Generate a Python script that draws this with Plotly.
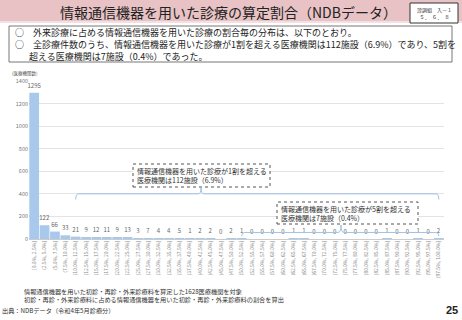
import plotly.graph_objects as go

# ---- data ----
bin_labels = [
    "[0.0%, 2.5%]", "(2.5%, 5.0%]", "(5.0%, 7.5%]", "(7.5%, 10.0%]",
    "(10.0%, 12.5%]", "(12.5%, 15.0%]", "(15.0%, 17.5%]", "(17.5%, 20.0%]",
    "(20.0%, 22.5%]", "(22.5%, 25.0%]", "(25.0%, 27.5%]", "(27.5%, 30.0%]",
    "(30.0%, 32.5%]", "(32.5%, 35.0%]", "(35.0%, 37.5%]", "(37.5%, 40.0%]",
    "(40.0%, 42.5%]", "(42.5%, 45.0%]", "(45.0%, 47.5%]", "(47.5%, 50.0%]",
    "(50.0%, 52.5%]", "(52.5%, 55.0%]", "(55.0%, 57.5%]", "(57.5%, 60.0%]",
    "(60.0%, 62.5%]", "(62.5%, 65.0%]", "(65.0%, 67.5%]", "(67.5%, 70.0%]",
    "(70.0%, 72.5%]", "(72.5%, 75.0%]", "(75.0%, 77.5%]", "(77.5%, 80.0%]",
    "(80.0%, 82.5%]", "(82.5%, 85.0%]", "(85.0%, 87.5%]", "(87.5%, 90.0%]",
    "(90.0%, 92.5%]", "(92.5%, 95.0%]", "(95.0%, 97.5%]", "(97.5%, 100.0%]",
]
counts = [1295, 122, 66, 33, 21, 9, 12, 11, 9, 13,
          3, 7, 4, 4, 5, 1, 2, 2, 0, 2,
          1, 0, 0, 0, 0, 1, 1, 0, 0, 0,
          0, 0, 0, 0, 1, 0, 0, 1, 0, 2]
y_ticks = [0, 200, 400, 600, 800, 1000, 1200, 1400]

title_text = "情報通信機器を用いた診療の算定割合（NDBデータ）"
bullet_lines = [
    "○　外来診療に占める情報通信機器を用いた診療の割合毎の分布は、以下のとおり。",
    "○　全診療件数のうち、情報通信機器を用いた診療が1割を超える医療機関は112施設（6.9%）であり、5割を",
    "超える医療機関は7施設（0.4%）であった。",
]
callout1 = "情報通信機器を用いた診療が1割を超える<br>医療機関は112施設（6.9%）"
callout2 = "情報通信機器を用いた診療が5割を超える<br>医療機関は7施設（0.4%）"
notes = [
    "情報通信機器を用いた初診・再診・外来診療料を算定した1628医療機関を対象",
    "初診・再診・外来診療料に占める情報通信機器を用いた初診・再診・外来診療料の割合を算出",
]
source = "出典：NDBデータ（令和4年5月診療分）"

FONT = "Noto Sans CJK JP"
W, H = 462, 320
L, R, T, B = 29, 18, 81, 81
PW, PH = W - L - R, H - T - B
NB = len(bin_labels)


def xp(px):
    return (px - L) / PW


def yp(py):
    return (H - B - py) / PH


def xi(i):
    return (i + 0.5) / NB


def txt(x, y, text, size, color="#333333", xanchor="left", yanchor="middle", family=FONT, align="left"):
    return dict(xref="paper", yref="paper", x=xp(x), y=yp(y), text=text,
                xanchor=xanchor, yanchor=yanchor, align=align, showarrow=False, borderpad=0,
                font=dict(size=size, color=color, family=family))


fig = go.Figure()
fig.add_trace(go.Bar(
    x=bin_labels, y=counts,
    marker=dict(color="#a9c9ec", line=dict(width=0)),
    text=[str(c) for c in counts], textposition="outside",
    textfont=dict(size=6, color="#666666", family=FONT),
    constraintext="none", cliponaxis=False,
))

shapes = []
annos = []

# title banner
shapes.append(dict(type="rect", xref="paper", yref="paper", x0=xp(0), x1=xp(W),
                   y0=yp(21), y1=yp(0), fillcolor="#e8c2c4", line=dict(width=0), layer="below"))
shapes.append(dict(type="rect", xref="paper", yref="paper", x0=xp(0), x1=xp(W),
                   y0=yp(23), y1=yp(21), fillcolor="#f3e0e1", line=dict(width=0), layer="below"))
annos.append(txt(228, 11.5, title_text, 14, "#222222", xanchor="center"))
# top right id box
shapes.append(dict(type="rect", xref="paper", yref="paper", x0=xp(410), x1=xp(458),
                   y0=yp(23), y1=yp(3), fillcolor="white", line=dict(color="#333333", width=1)))
annos.append(txt(434, 13, "診調組　入－１<br>５．　６．　８", 5, xanchor="center", align="center"))

# bullet box
shapes.append(dict(type="rect", xref="paper", yref="paper", x0=xp(9), x1=xp(452),
                   y0=yp(62), y1=yp(26), fillcolor="white", line=dict(color="#777777", width=1)))
for line, bx, by in zip(bullet_lines, [14, 14, 28], [33, 45, 56]):
    annos.append(txt(bx, by, line, 9, "#222222"))

# axis caption
annos.append(txt(11, 73.5, "(医療機関数)", 4.5, "#555555"))

# callout boxes (dashed)
for (x0, x1, y0, y1, t) in [(133, 270, 164, 187, callout1), (277, 418, 202, 224, callout2)]:
    shapes.append(dict(type="rect", xref="paper", yref="paper", x0=xp(x0), x1=xp(x1),
                       y0=yp(y1), y1=yp(y0), fillcolor="white",
                       line=dict(color="#555555", width=1, dash="dot")))
    annos.append(txt(x0 + 3, (y0 + y1) / 2, t, 7, "#333333"))

# braces
BR = "#9dc3e6"
rx = 3 / PW


def brace(i0, i1, v_h, v_end, tick_px, v_tick):
    x0, x1 = xi(i0), xi(i1)
    yh, ye, yt = v_h / 1400, v_end / 1400, v_tick / 1400
    xt = xp(tick_px)
    p = (f"M {x0},{ye} Q {x0},{yh} {x0 + rx},{yh} L {xt - rx},{yh} "
         f"Q {xt},{yh} {xt},{yt} Q {xt},{yh} {xt + rx},{yh} "
         f"L {x1 - rx},{yh} Q {x1},{yh} {x1},{ye}")
    return dict(type="path", xref="paper", yref="paper", path=p, line=dict(color=BR, width=1))


shapes.append(brace(4, 39, 400, 350, 201, 452))
shapes.append(brace(20, 39, 58, 25, 341, 124))

# footnotes
annos.append(txt(23, 295.5, "<br>".join(notes), 6.2))
annos.append(txt(1, 310.5, source, 6.2))
annos.append(txt(459, 310, "<b>25</b>", 11, "#222222", xanchor="right", family="Arial"))

fig.update_layout(
    width=W, height=H, autosize=False,
    margin=dict(l=L, r=R, t=T, b=B, pad=0),
    paper_bgcolor="white", plot_bgcolor="white",
    showlegend=False, bargap=0.06,
    font=dict(family=FONT),
    shapes=shapes, annotations=annos,
    xaxis=dict(type="category", tickangle=-90, tickfont=dict(size=5, color="#888888", family=FONT),
               showgrid=False, showline=False, ticks="", automargin=False),
    yaxis=dict(range=[0, 1400], tickvals=y_ticks, showgrid=True, gridcolor="#e3e3e3", gridwidth=1,
               zeroline=True, zerolinecolor="#cccccc", zerolinewidth=1,
               tickfont=dict(size=5.5, color="#777777", family=FONT), ticks="", automargin=False),
)

fig.write_html("out.html")
